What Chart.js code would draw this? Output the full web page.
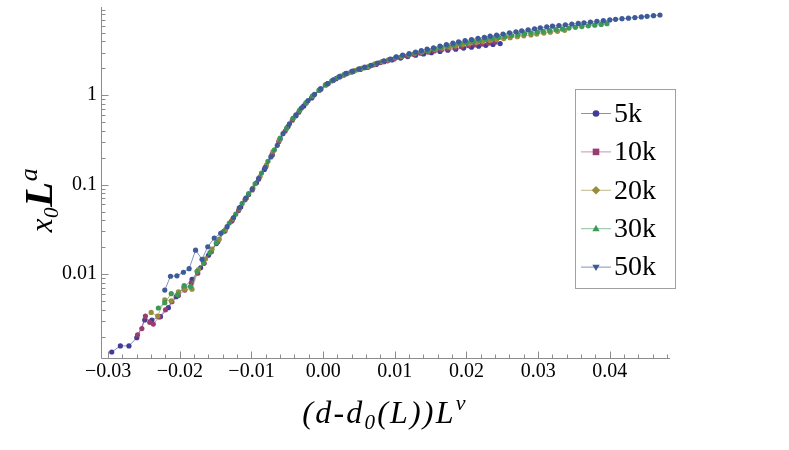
<!DOCTYPE html>
<html><head><meta charset="utf-8">
<script src="https://cdn.jsdelivr.net/npm/chart.js@4.4.1/dist/chart.umd.min.js"></script>
<style>html,body{margin:0;padding:0;background:#fff;}canvas{display:block;}</style>
</head><body>
<canvas id="c" width="789" height="450"></canvas>
<script>
const seriesLabels = ['5k','10k','20k','30k','50k'];

const x5k = [-0.0295,-0.0283,-0.0271,-0.0260,-0.0249,-0.0239,-0.0227,-0.0216,-0.0205,-0.0194,-0.0183,-0.0171,-0.0160,-0.0149,-0.0138,-0.0127,-0.0115,-0.0104,-0.0093,-0.0082,-0.0071,-0.0060,-0.0049,-0.0038,-0.0027,-0.0016,-0.0004,0.0007,0.0018,0.0029,0.0040,0.0052,0.0063,0.0074,0.0085,0.0096,0.0108,0.0118,0.0129,0.0140,0.0151,0.0163,0.0174,0.0185,0.0196,0.0207,0.0217,0.0227,0.0237,0.0247];
const y5k = [0.001343,0.001570,0.001570,0.001941,0.003062,0.003062,0.003334,0.004207,0.005572,0.007096,0.008710,0.01175,0.01622,0.02188,0.03020,0.03981,0.05623,0.07762,0.1047,0.1479,0.2138,0.3236,0.4467,0.5888,0.7586,0.9333,1.175,1.349,1.531,1.679,1.820,1.950,2.065,2.213,2.371,2.483,2.600,2.704,2.805,2.897,2.992,3.090,3.184,3.273,3.365,3.451,3.540,3.614,3.698,3.784];

const x10k = [-0.0259,-0.0253,-0.0248,-0.0242,-0.0237,-0.0229,-0.0220,-0.0211,-0.0202,-0.0193,-0.0184,-0.0175,-0.0166,-0.0156,-0.0147,-0.0137,-0.0128,-0.0118,-0.0109,-0.0099,-0.0090,-0.0080,-0.0071,-0.0062,-0.0053,-0.0043,-0.0034,-0.0024,-0.0015,-0.0005,0.0004,0.0014,0.0023,0.0033,0.0042,0.0052,0.0061,0.0071,0.0080,0.0090,0.0099,0.0109,0.0118,0.0127,0.0136,0.0146,0.0155,0.0165,0.0174,0.0184,0.0193,0.0203,0.0212,0.0222,0.0231,0.0240];
const y10k = [0.002089,0.002455,0.003388,0.002884,0.002754,0.003311,0.003981,0.004898,0.005754,0.006607,0.007943,0.01023,0.01318,0.01778,0.02291,0.03020,0.03890,0.05129,0.06761,0.08710,0.1148,0.1585,0.2188,0.3020,0.3981,0.5248,0.6457,0.8128,0.9661,1.135,1.303,1.462,1.603,1.738,1.841,1.950,2.042,2.188,2.317,2.427,2.541,2.661,2.754,2.851,2.951,3.041,3.133,3.221,3.311,3.404,3.491,3.589,3.664,3.750,3.837,3.926];

const x20k = [-0.0240,-0.0231,-0.0221,-0.0212,-0.0202,-0.0193,-0.0183,-0.0174,-0.0164,-0.0155,-0.0145,-0.0136,-0.0126,-0.0117,-0.0107,-0.0098,-0.0088,-0.0079,-0.0070,-0.0061,-0.0051,-0.0042,-0.0032,-0.0023,-0.0013,-0.0004,0.0006,0.0015,0.0025,0.0034,0.0044,0.0053,0.0063,0.0072,0.0082,0.0091,0.0101,0.0110,0.0120,0.0128,0.0138,0.0147,0.0157,0.0166,0.0176,0.0185,0.0195,0.0204,0.0214,0.0223,0.0233,0.0242,0.0252,0.0261,0.0271,0.0280,0.0290,0.0298,0.0308,0.0317,0.0327,0.0337];
const y20k = [0.003715,0.003388,0.005129,0.005012,0.006310,0.006761,0.006761,0.01122,0.01479,0.01905,0.02455,0.03162,0.04169,0.05370,0.07079,0.09120,0.1230,0.1660,0.2344,0.3162,0.4266,0.5495,0.6918,0.8318,1.000,1.161,1.334,1.496,1.641,1.758,1.884,1.995,2.089,2.239,2.371,2.483,2.630,2.723,2.831,2.938,3.041,3.141,3.251,3.365,3.467,3.573,3.681,3.784,3.882,3.981,4.093,4.198,4.305,4.406,4.508,4.613,4.721,4.831,4.955,5.070,5.188,5.321];

const x30k = [-0.0230,-0.0221,-0.0212,-0.0203,-0.0194,-0.0185,-0.0176,-0.0167,-0.0158,-0.0149,-0.0140,-0.0131,-0.0122,-0.0113,-0.0104,-0.0095,-0.0086,-0.0077,-0.0068,-0.0060,-0.0051,-0.0042,-0.0033,-0.0024,-0.0015,-0.0006,0.0003,0.0012,0.0021,0.0030,0.0039,0.0048,0.0057,0.0066,0.0075,0.0084,0.0093,0.0102,0.0111,0.0120,0.0128,0.0137,0.0146,0.0155,0.0164,0.0173,0.0182,0.0191,0.0200,0.0209,0.0218,0.0227,0.0236,0.0245,0.0254,0.0263,0.0272,0.0281,0.0290,0.0299,0.0307,0.0316,0.0325,0.0334,0.0343,0.0352,0.0361,0.0370,0.0379,0.0388,0.0396];
const y30k = [0.004169,0.004786,0.006026,0.005888,0.007413,0.007244,0.01072,0.01349,0.01738,0.02239,0.02951,0.03715,0.04677,0.06166,0.07943,0.1023,0.1349,0.1820,0.2455,0.3311,0.4266,0.5495,0.6761,0.8222,0.9772,1.135,1.303,1.445,1.585,1.718,1.820,1.928,2.018,2.138,2.265,2.399,2.512,2.661,2.754,2.851,2.965,3.069,3.162,3.296,3.428,3.548,3.656,3.776,3.890,3.999,4.111,4.217,4.325,4.426,4.539,4.656,4.764,4.875,4.977,5.082,5.188,5.297,5.408,5.521,5.636,5.754,5.861,5.970,6.081,6.194,6.310];

const x50k = [-0.0221,-0.0213,-0.0204,-0.0195,-0.0187,-0.0178,-0.0169,-0.0161,-0.0152,-0.0143,-0.0134,-0.0125,-0.0117,-0.0108,-0.0099,-0.0090,-0.0081,-0.0073,-0.0064,-0.0056,-0.0047,-0.0038,-0.0030,-0.0021,-0.0012,-0.0003,0.0006,0.0014,0.0023,0.0032,0.0041,0.0050,0.0058,0.0067,0.0076,0.0085,0.0094,0.0102,0.0111,0.0120,0.0129,0.0137,0.0145,0.0154,0.0163,0.0172,0.0181,0.0189,0.0198,0.0207,0.0216,0.0225,0.0233,0.0242,0.0251,0.0260,0.0269,0.0277,0.0286,0.0295,0.0303,0.0312,0.0320,0.0329,0.0338,0.0347,0.0356,0.0364,0.0373,0.0382,0.0391,0.0400,0.0408,0.0417,0.0426,0.0435,0.0444,0.0452,0.0461,0.0470];
const y50k = [0.00661,0.00944,0.00955,0.01047,0.01148,0.01849,0.01459,0.02018,0.02523,0.02851,0.03388,0.04266,0.05495,0.07079,0.08913,0.1175,0.1549,0.2042,0.2754,0.3715,0.4786,0.6026,0.7244,0.8710,1.023,1.175,1.349,1.479,1.622,1.758,1.862,1.972,2.065,2.163,2.291,2.427,2.541,2.692,2.818,2.917,3.041,3.162,3.273,3.388,3.548,3.681,3.819,3.954,4.074,4.188,4.325,4.446,4.571,4.699,4.842,4.989,5.129,5.248,5.395,5.534,5.675,5.808,5.916,6.026,6.138,6.252,6.353,6.457,6.577,6.699,6.823,6.950,7.063,7.178,7.278,7.379,7.516,7.638,7.762,7.889];

const xTickValues = [-0.03,-0.02,-0.01,0,0.01,0.02,0.03,0.04];
const xTickLabels = ['\u22120.03','\u22120.02','\u22120.01','0.00','0.01','0.02','0.03','0.04'];
const yTickValues = [0.01,0.1,1];
const yTickLabels = ['0.01','0.1','1'];

const xsAll = [x5k,x10k,x20k,x30k,x50k];
const ysAll = [y5k,y10k,y20k,y30k,y50k];
const pointColors = ['#3F3D99','#993D71','#998C3D','#3D9956','#3D5A99'];
const lineColors = ['rgba(63,61,153,0.6)','rgba(153,61,113,0.55)','rgba(153,140,61,0.6)','rgba(61,153,86,0.6)','rgba(61,90,153,0.65)'];
const legendStyles = ['circle','rect','rectRot','triangle','triangleDown'];

const X_MIN = -0.031, X_MAX = 0.0484, Y_MIN = 0.00115, Y_MAX = 9.7;
const SERIF = '"Liberation Serif","DejaVu Serif",serif';

function labelFor(vals, labs, v){ for(let i=0;i<vals.length;i++){ if(Math.abs(vals[i]-v) < Math.abs(v)*1e-6+1e-10) return labs[i]; } return ''; }

const xTicksAll = []; for (let k=-15;k<=24;k++) xTicksAll.push(Math.round(k*2)/1000);
const yTicksAll = []; [0.001,0.01,0.1,1].forEach(d=>{ for(let m=1;m<=9;m++){ const v=+(m*d).toPrecision(3); if(v>=Y_MIN && v<=Y_MAX) yTicksAll.push(v);} });

const datasets = seriesLabels.map((lab,i)=>({
  label: lab,
  data: xsAll[i].map((x,j)=>({x:x, y:ysAll[i][j]})),
  borderColor: lineColors[i],
  borderWidth: 1,
  pointStyle: 'circle',
  pointRadius: 2.6,
  pointBackgroundColor: pointColors[i],
  pointBorderColor: pointColors[i],
  pointBorderWidth: 0,
  tension: 0,
  fill: false,
  order: 4 - i
}));

const axesPlugin = {
  id: 'axesPlugin',
  beforeDatasetsDraw(chart){
    const {ctx, chartArea:a, scales} = chart;
    const xs = scales.x, ys = scales.y;
    ctx.save();
    ctx.strokeStyle = '#8c8c8c';
    ctx.lineWidth = 1;
    ctx.beginPath();
    const L = Math.round(a.left)+0.5, B = Math.round(a.bottom)+0.5;
    ctx.moveTo(L, a.top); ctx.lineTo(L, B); ctx.lineTo(a.right, B);
    xs.ticks.forEach(t=>{
      const px = Math.round(xs.getPixelForValue(t.value))+0.5;
      const major = labelFor(xTickValues, xTickLabels, t.value) !== '';
      ctx.moveTo(px, B); ctx.lineTo(px, B - (major?7:4));
    });
    ys.ticks.forEach(t=>{
      const py = Math.round(ys.getPixelForValue(t.value))+0.5;
      const major = labelFor(yTickValues, yTickLabels, t.value) !== '';
      ctx.moveTo(L, py); ctx.lineTo(L + (major?7:4), py);
    });
    ctx.stroke();
    ctx.restore();
  }
};

function drawRich(ctx, parts, startX, baseY, gap){
  let x = startX;
  parts.forEach(p=>{
    ctx.font = p.font;
    for (const ch of p.t){
      ctx.fillText(ch, x, baseY + (p.dy||0));
      x += ctx.measureText(ch).width + gap;
    }
  });
}
function measureRich(ctx, parts, gap){
  let w = 0;
  parts.forEach(p=>{ ctx.font = p.font; for (const ch of p.t){ w += ctx.measureText(ch).width + gap; } });
  return w;
}

const xTitleParts = [
  {t:'(d-d', font:'italic 32px '+SERIF},
  {t:'0', font:'italic 21px '+SERIF, dy:6},
  {t:'(L))L', font:'italic 32px '+SERIF},
  {t:'\u03BD', font:'italic 22px '+SERIF, dy:-13}
];
const yTitleParts = [
  {t:'x', font:'italic 31px '+SERIF},
  {t:'0', font:'italic 21px '+SERIF, dy:6},
  {t:'L', font:'italic bold 41px '+SERIF},
  {t:'a', font:'italic 26px '+SERIF, dy:-15}
];

const titlePlugin = {
  id: 'titlePlugin',
  afterDraw(chart){
    const ctx = chart.ctx;
    ctx.save();
    ctx.fillStyle = '#000';
    ctx.textBaseline = 'alphabetic';
    ctx.textAlign = 'left';
    const wx = measureRich(ctx, xTitleParts, 2.2);
    drawRich(ctx, xTitleParts, 385 - wx/2, 423, 2.2);
    ctx.translate(52, 200);
    ctx.rotate(-Math.PI/2);
    const wy = measureRich(ctx, yTitleParts, 0.5);
    drawRich(ctx, yTitleParts, -wy/2, 0, 0.5);
    ctx.restore();
  }
};

function drawMarker(ctx, style, r, x, y){
  ctx.beginPath();
  if (style === 'circle'){ ctx.arc(x, y, r, 0, Math.PI*2); }
  else if (style === 'rect'){ ctx.rect(x-r, y-r, 2*r, 2*r); }
  else if (style === 'rectRot'){ ctx.moveTo(x, y-r*1.3); ctx.lineTo(x+r*1.3, y); ctx.lineTo(x, y+r*1.3); ctx.lineTo(x-r*1.3, y); ctx.closePath(); }
  else {
    const s = style === 'triangleDown' ? -1 : 1;
    ctx.moveTo(x, y - s*r*1.2); ctx.lineTo(x + r*1.1, y + s*r*0.75); ctx.lineTo(x - r*1.1, y + s*r*0.75); ctx.closePath();
  }
  ctx.fill();
}

const legendPlugin = {
  id: 'legendPlugin',
  afterDraw(chart){
    const ctx = chart.ctx;
    ctx.save();
    ctx.fillStyle = '#fff';
    ctx.fillRect(575.5, 89.5, 100, 199);
    ctx.strokeStyle = '#a0a0a0';
    ctx.lineWidth = 1;
    ctx.strokeRect(575.5, 89.5, 100, 199);
    chart.data.datasets.forEach((ds, i)=>{
      const y = 113.5 + i*38.4;
      ctx.strokeStyle = ds.borderColor;
      ctx.beginPath(); ctx.moveTo(581, y); ctx.lineTo(611, y); ctx.stroke();
      ctx.fillStyle = ds.pointBackgroundColor;
      drawMarker(ctx, legendStyles[i], 3.3, 596, y);
      ctx.fillStyle = '#000';
      ctx.font = '28px '+SERIF;
      ctx.textBaseline = 'middle';
      ctx.textAlign = 'left';
      ctx.fillText(ds.label, 614, y + 1);
    });
    ctx.restore();
  }
};

new Chart(document.getElementById('c'), {
  type: 'line',
  data: { datasets },
  options: {
    responsive: false,
    animation: false,
    events: [],
    layout: { padding: { left: 0, top: 7, right: 119, bottom: 0 } },
    plugins: { legend: { display: false }, tooltip: { enabled: false }, title: { display: false } },
    elements: { line: { borderJoinStyle: 'round' } },
    scales: {
      x: {
        type: 'linear', min: X_MIN, max: X_MAX,
        grid: { display: false, drawTicks: false },
        border: { display: false },
        afterBuildTicks: (s)=>{ s.ticks = xTicksAll.map(v=>({value:v})); },
        afterFit: (s)=>{ s.height = 92; s.paddingLeft = 0; s.paddingRight = 0; },
        ticks: {
          autoSkip: false, maxRotation: 0, minRotation: 0, padding: 2,
          color: '#000', font: { family: SERIF, size: 20 },
          callback: (v)=>labelFor(xTickValues, xTickLabels, v)
        }
      },
      y: {
        type: 'logarithmic', min: Y_MIN, max: Y_MAX,
        grid: { display: false, drawTicks: false },
        border: { display: false },
        afterBuildTicks: (s)=>{ s.ticks = yTicksAll.map(v=>({value:v})); },
        afterFit: (s)=>{ s.width = 101; s.paddingTop = 0; s.paddingBottom = 0; },
        ticks: {
          autoSkip: false, padding: 4,
          color: '#000', font: { family: SERIF, size: 20 },
          callback: (v)=>labelFor(yTickValues, yTickLabels, v)
        }
      }
    }
  },
  plugins: [axesPlugin, titlePlugin, legendPlugin]
});
</script>
</body></html>
